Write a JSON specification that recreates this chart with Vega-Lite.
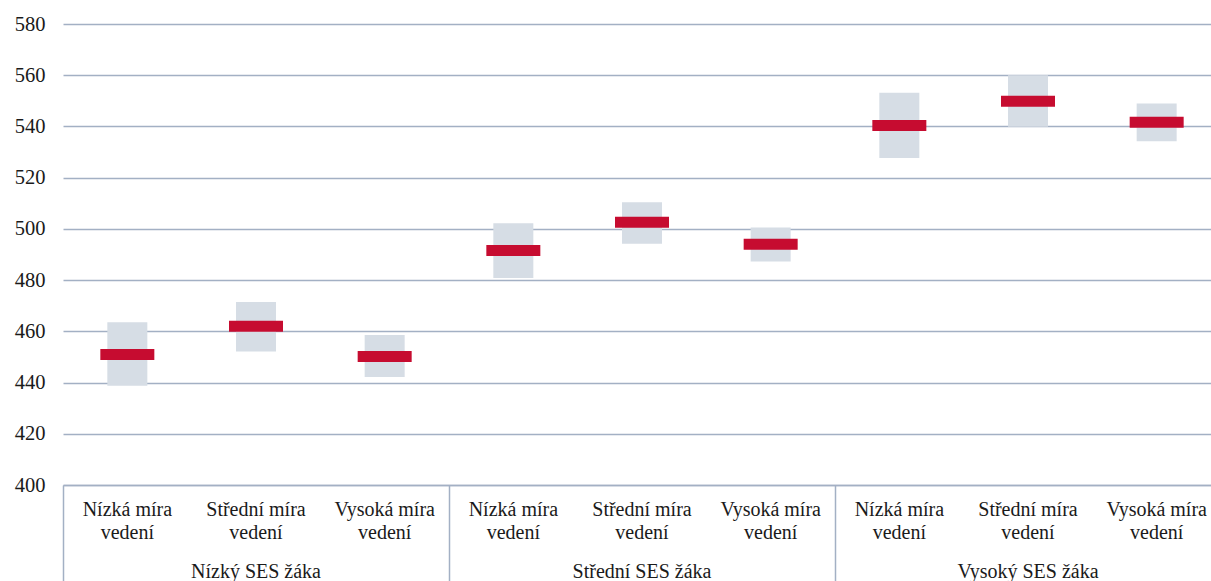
{
  "$schema": "https://vega.github.io/schema/vega-lite/v6.json",
  "autosize": {"type": "none"},
  "padding": {"left": 63, "top": 24, "right": 0, "bottom": 96},
  "width": 1148,
  "height": 461,
  "config": {
    "view": {"stroke": null},
    "font": "Liberation Serif, serif",
    "axis": {"labelFont": "Liberation Serif, serif", "labelColor": "#1a1a1a"}
  },
  "data": {
    "values": [
      {"k": "Nízká míra|vedení|Nízký SES žáka", "low": 438.8, "high": 463.5, "mean": 451.0},
      {"k": "Střední míra|vedení|Nízký SES žáka", "low": 452.1, "high": 471.5, "mean": 462.0},
      {"k": "Vysoká míra|vedení|Nízký SES žáka", "low": 442.2, "high": 458.6, "mean": 450.2},
      {"k": "Nízká míra|vedení|Střední SES žáka", "low": 480.8, "high": 502.2, "mean": 491.6},
      {"k": "Střední míra|vedení|Střední SES žáka", "low": 494.2, "high": 510.4, "mean": 502.6},
      {"k": "Vysoká míra|vedení|Střední SES žáka", "low": 487.3, "high": 500.5, "mean": 494.0},
      {"k": "Nízká míra|vedení|Vysoký SES žáka", "low": 527.7, "high": 553.2, "mean": 540.4},
      {"k": "Střední míra|vedení|Vysoký SES žáka", "low": 539.9, "high": 560.0, "mean": 549.8},
      {"k": "Vysoká míra|vedení|Vysoký SES žáka", "low": 534.2, "high": 549.0, "mean": 541.6}
    ]
  },
  "layer": [
    {
      "mark": {"type": "bar", "size": 40, "color": "#d6dde5"},
      "encoding": {
        "x": {
          "field": "k", "type": "nominal", "sort": null, "title": null,
          "scale": {"range": [0, 1158], "paddingInner": 0, "paddingOuter": 0},
          "axis": {
            "orient": "bottom",
            "labelExpr": "[split(datum.value,'|')[0], split(datum.value,'|')[1]]",
            "labelFont": "Liberation Serif, serif",
            "labelAngle": 0, "labelFontSize": 20, "labelLineHeight": 23,
            "labelBaseline": "top", "labelPadding": 14,
            "ticks": false, "grid": false,
            "domain": true, "domainColor": "#a3b0c4", "domainWidth": 1.5,
            "labelLimit": 0, "offset": 0
          }
        },
        "y": {
          "field": "low", "type": "quantitative", "title": null,
          "scale": {"domain": [400, 580], "nice": false, "zero": false},
          "axis": {
            "values": [400, 420, 440, 460, 480, 500, 520, 540, 560, 580],
            "labelFont": "Liberation Serif, serif",
            "labelFontSize": 20.5, "labelPadding": 18, "ticks": false, "domain": false,
            "grid": true, "gridColor": "#a3b0c4", "gridWidth": 1.5
          }
        },
        "y2": {"field": "high"}
      }
    },
    {
      "mark": {"type": "tick", "size": 54, "thickness": 11, "color": "#c60c30", "opacity": 1},
      "encoding": {
        "x": {
          "field": "k", "type": "nominal", "sort": null, "title": null,
          "axis": {
            "orient": "bottom",
            "labelExpr": "split(datum.value,'|')[0] == 'Střední míra' ? split(datum.value,'|')[2] : ''",
            "labelFont": "Liberation Serif, serif",
            "labelAngle": 0, "labelFontSize": 20, "labelBaseline": "alphabetic",
            "labelPadding": -4, "labelLimit": 0,
            "bandPosition": 0, "ticks": true, "tickSize": 96, "tickWidth": 1.5,
            "tickColor": "#a3b0c4",
            "tickOpacity": {"condition": {"test": "split(datum.value,'|')[0] == 'Nízká míra'", "value": 1}, "value": 0},
            "domain": false, "grid": false, "offset": 0
          }
        },
        "y": {"field": "mean", "type": "quantitative"}
      }
    }
  ],
  "resolve": {"axis": {"x": "independent"}}
}
